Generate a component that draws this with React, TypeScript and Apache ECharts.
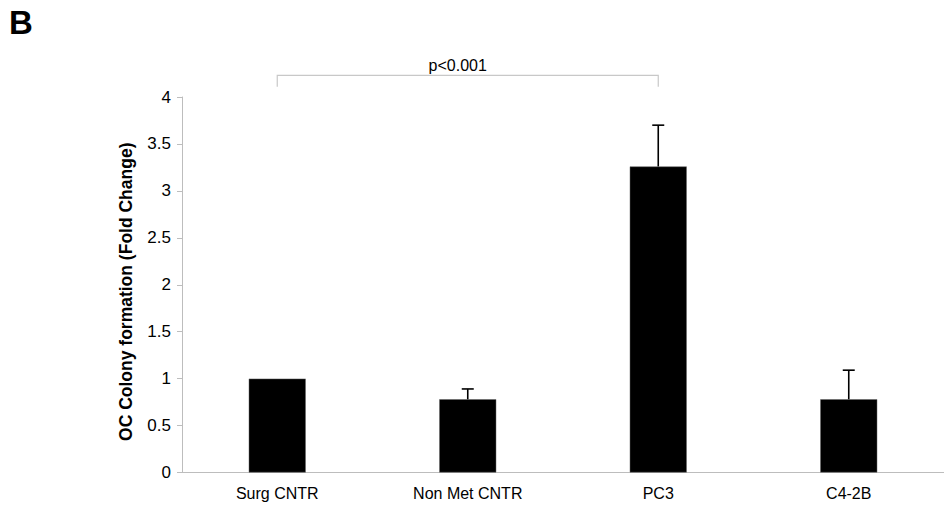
import React, { useEffect, useRef } from "react";
import * as echarts from "echarts";

const categories = ["Surg CNTR", "Non Met CNTR", "PC3", "C4-2B"];
const foldChange = [1.0, 0.78, 3.26, 0.78];
const errorUp = [0, 0.11, 0.44, 0.31];
const yTicks = { min: 0, max: 4, interval: 0.5 };
const bracketFrom = 0;
const bracketTo = 2;
const bracketTop = 4.23;
const bracketFoot = 4.11;
const pLabel = "p<0.001";

export default function App() {
  const ref = useRef<HTMLDivElement>(null);
  useEffect(() => {
    if (!ref.current) return;
    const chart = echarts.init(ref.current, null, { renderer: "svg" });
    const font = "Liberation Sans, Arial, sans-serif";
    chart.setOption({
      animation: false,
      backgroundColor: "#ffffff",
      textStyle: { fontFamily: font },
      graphic: [
        {
          type: "text",
          left: 9,
          top: 6,
          style: { text: "B", font: `bold 33px ${font}`, fill: "#000" },
        },
      ],
      grid: { left: 182, right: -7, top: 97, bottom: 33.5 },
      xAxis: {
        type: "category",
        data: categories,
        axisLine: { lineStyle: { color: "#bdbdbd", width: 1 } },
        axisTick: { show: false },
        axisLabel: { color: "#000", fontSize: 16, margin: 13, fontFamily: font },
      },
      yAxis: {
        type: "value",
        min: yTicks.min,
        max: yTicks.max,
        interval: yTicks.interval,
        name: "OC Colony formation (Fold Change)",
        nameLocation: "middle",
        nameGap: 47,
        nameRotate: 90,
        nameTextStyle: {
          color: "#000",
          fontSize: 17.5,
          fontWeight: "bold",
          fontFamily: font,
          padding: [0, 14, 0, 0],
        },
        splitLine: { show: false },
        axisLine: { show: true, lineStyle: { color: "#bdbdbd", width: 1 } },
        axisTick: { show: true, length: 5, lineStyle: { color: "#bdbdbd" } },
        axisLabel: { color: "#000", fontSize: 17, margin: 11, fontFamily: font },
      },
      series: [
        {
          type: "bar",
          data: foldChange,
          barWidth: 57,
          itemStyle: { color: "#000", borderColor: "#666", borderWidth: 0.5 },
        },
        {
          type: "custom",
          clip: false,
          data: foldChange.map((v, i) => [i, v, errorUp[i]]),
          renderItem: (params: any, api: any) => {
            const i = api.value(0);
            const v = api.value(1);
            const e = api.value(2);
            if (!e) return { type: "group", children: [] };
            const p0 = api.coord([i, v]);
            const p1 = api.coord([i, v + e]);
            const style = { stroke: "#000", lineWidth: 1.6 };
            return {
              type: "group",
              children: [
                { type: "line", shape: { x1: p0[0], y1: p0[1], x2: p1[0], y2: p1[1] }, style },
                { type: "line", shape: { x1: p1[0] - 6, y1: p1[1], x2: p1[0] + 6, y2: p1[1] }, style },
              ],
            };
          },
          z: 5,
        },
        {
          type: "custom",
          clip: false,
          data: [[bracketFrom, bracketTo, bracketTop, bracketFoot]],
          renderItem: (params: any, api: any) => {
            const a = api.coord([api.value(0), api.value(2)]);
            const b = api.coord([api.value(1), api.value(2)]);
            const f = api.coord([api.value(0), api.value(3)]);
            return {
              type: "group",
              children: [
                {
                  type: "polyline",
                  shape: { points: [[a[0], f[1]], [a[0], a[1]], [b[0], b[1]], [b[0], f[1]]] },
                  style: { stroke: "#c8c8c8", lineWidth: 1.2, fill: "none" },
                },
                {
                  type: "text",
                  x: (a[0] + b[0]) / 2 - 10,
                  y: a[1] - 10,
                  style: {
                    text: pLabel,
                    font: `16px ${font}`,
                    fill: "#000",
                    align: "center",
                    verticalAlign: "middle",
                  },
                },
              ],
            };
          },
        },
      ],
    });
    return () => chart.dispose();
  }, []);
  return (
    <div
      ref={ref}
      style={{ position: "fixed", left: 0, top: 0, width: 944, height: 506 }}
    />
  );
}
